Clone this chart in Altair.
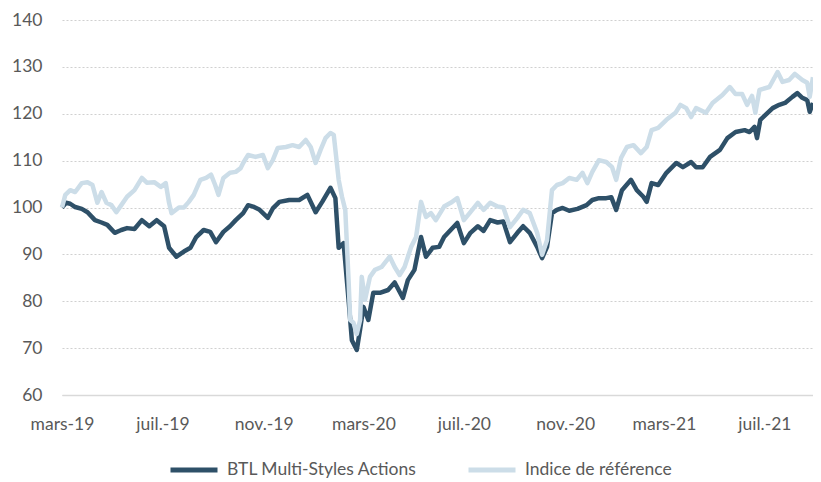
import json
import altair as alt
import pandas as pd

# ---------------- data ----------------
START = "2019-03-01"
END = "2021-08-29"

series_names = ["BTL Multi-Styles Actions", "Indice de référence"]
series_colors = ["#2E5068", "#CCDDE8"]

# days since START, and index values (base 100)
fund_days = [0, 5, 10, 16, 24, 31, 40, 48, 55, 64, 72, 79, 88, 97, 106, 115, 124,
             130, 139, 148, 156, 163, 172, 180, 187, 196, 204, 211, 220, 226, 232,
             240, 250, 256, 264, 276, 288, 298, 308, 316, 326, 332, 336, 342, 348,
             352, 358, 362, 366, 372, 378, 386, 396, 404, 414, 420, 428, 436, 442,
             450, 458, 464, 472, 480, 488, 496, 505, 512, 520, 529, 536, 544, 553,
             560, 568, 577, 583, 589, 595, 601, 608, 616, 626, 637, 644, 652, 661,
             667, 673, 680, 691, 698, 706, 710, 716, 724, 734, 746, 754, 764, 770,
             778, 787, 799, 808, 818, 829, 835, 841, 844, 848, 854, 863, 871, 878,
             887, 893, 899, 905, 908, 912]
fund_vals = [100, 101, 100.8, 100.1, 99.7, 99, 97.3, 96.8, 96.3, 94.6, 95.2, 95.6,
             95.4, 97.3, 96, 97.3, 96, 91.4, 89.5, 90.6, 91.4, 93.7, 95.2, 94.8,
             92.6, 94.8, 96, 97.3, 98.8, 100.5, 100.2, 99.5, 97.8, 99.8, 101.2,
             101.6, 101.6, 102.7, 99, 101.2, 104.2, 102, 91.4, 92.4, 80.3, 71.7,
             69.6, 74, 78.8, 76, 81.8, 81.8, 82.4, 84, 80.7, 84.5, 86.7, 93.7, 89.5,
             91.4, 91.6, 93.7, 95.2, 96.7, 92.4, 94.6, 96, 95, 97.3, 96.8, 97, 92.6,
             94.6, 96, 94.6, 91.6, 89.2, 91.6, 98.8, 99.5, 99.9, 99.3, 99.7, 100.5,
             101.6, 102, 102, 102.2, 99.5, 103.7, 105.9, 103.7, 102.3, 101.2, 105.2,
             104.8, 107.4, 109.5, 108.6, 109.7, 108.6, 108.6, 110.8, 112.3, 114.8,
             116.1, 116.5, 116.1, 117.2, 114.8, 118.7, 119.7, 121.2, 121.9, 122.3,
             123.6, 124.4, 123.4, 122.9, 120.4, 122.3]

bench_days = [0, 4, 10, 16, 24, 31, 37, 43, 48, 54, 60, 66, 72, 79, 88, 97, 103,
              112, 120, 126, 130, 133, 142, 148, 154, 160, 168, 175, 181, 186, 190,
              196, 204, 211, 217, 220, 226, 235, 244, 250, 256, 262, 272, 280, 288,
              296, 302, 308, 314, 320, 326, 330, 336, 340, 344, 348, 350, 354, 358,
              362, 364, 368, 374, 380, 388, 398, 404, 410, 416, 424, 430, 436, 442,
              448, 454, 464, 472, 480, 488, 496, 505, 512, 520, 529, 536, 544, 553,
              560, 568, 577, 583, 589, 595, 601, 608, 616, 625, 632, 638, 644, 652,
              661, 668, 673, 679, 686, 694, 703, 710, 716, 724, 734, 745, 751, 758,
              764, 770, 782, 790, 802, 811, 818, 826, 832, 838, 842, 847, 859, 869,
              875, 883, 890, 899, 905, 908, 912]
bench_vals = [100, 102.7, 103.7, 103.3, 105.2, 105.4, 104.8, 101, 103.3, 101, 100.5,
              99, 100.5, 102.3, 103.7, 106.3, 105.3, 105.4, 104.4, 105.2, 101, 98.8,
              100, 100, 101.2, 102.7, 105.9, 106.3, 107, 104.8, 102.7, 106.3, 107.4,
              107.6, 108.4, 109.5, 111.2, 110.8, 111.2, 108.4, 110.1, 112.7, 112.9,
              113.3, 112.9, 114.4, 112.9, 109.5, 112.3, 114.8, 115.9, 115.5, 105.9,
              102.3, 99.5, 84.5, 76, 75.4, 73, 76, 85.2, 80.3, 85.2, 86.7, 87.3, 89.5,
              87.3, 85.6, 87.3, 91.6, 93.7, 101.2, 98, 98.8, 97.3, 100.2, 101, 102,
              97.3, 99, 101, 99.5, 101, 100.2, 100, 95.8, 97.8, 99.5, 98.8, 94.6,
              89.9, 93, 103.7, 104.8, 105.2, 106.3, 105.9, 107.4, 105.2, 107.6,
              110.1, 109.7, 108.6, 105.9, 110.6, 112.9, 113.3, 111.6, 112.9, 116.5,
              117, 118.7, 120.2, 121.9, 121.2, 119.3, 121.2, 120.2, 122.3, 124,
              125.7, 124.2, 124.2, 121.9, 123.8, 120.2, 125.1, 125.7, 128.9, 126.8,
              127.2, 128.5, 127.2, 126.6, 123.6, 127.8]

tick_dates = ["2019-03-01", "2019-07-01", "2019-11-01", "2020-03-01",
              "2020-07-01", "2020-11-01", "2021-03-01", "2021-07-01"]
tick_labels = ["mars-19", "juil.-19", "nov.-19", "mars-20",
               "juil.-20", "nov.-20", "mars-21", "juil.-21"]
y_ticks = [60, 70, 80, 90, 100, 110, 120, 130, 140]
y_domain = [60, 140]

# ---------------- build table ----------------
start = pd.Timestamp(START)


def make(days, vals, name):
    return pd.DataFrame({
        "date": [(start + pd.Timedelta(days=d)).strftime("%Y-%m-%d") for d in days],
        "value": vals,
        "series": name,
    })


df = pd.concat([make(fund_days, fund_vals, series_names[0]),
                make(bench_days, bench_vals, series_names[1])], ignore_index=True)


def ms(s):
    return int(pd.Timestamp(s, tz="UTC").timestamp() * 1000)


tick_ms = [ms(t) for t in tick_dates]
label_expr = f"{json.dumps(tick_labels)}[indexof({json.dumps(tick_ms)}, +datum.value)]"

FONT = "Lato"
TXT = "#595959"
FS = 17.5

x = alt.X("date:T",
          scale=alt.Scale(type="utc", domain=[ms(START), ms(END)], nice=False),
          axis=alt.Axis(values=tick_ms, labelExpr=label_expr, title=None, grid=False,
                        ticks=False, domainColor="#D9D9D9", domainWidth=1.5,
                        labelPadding=20, labelFontSize=FS, labelColor=TXT,
                        labelFont=FONT, labelOverlap=False, labelFlush=False,
                        labelBound=False))
y = alt.Y("value:Q",
          scale=alt.Scale(domain=y_domain, nice=False, zero=False),
          axis=alt.Axis(values=y_ticks, title=None, domain=False, ticks=False,
                        labelPadding=20, labelFontSize=FS, labelColor=TXT,
                        labelFont=FONT, gridColor="#D0D0D0", gridDash=[2, 2],
                        gridWidth=1.2))
color = alt.Color("series:N",
                  scale=alt.Scale(domain=series_names, range=series_colors),
                  legend=alt.Legend(title=None, orient="none", legendX=106, legendY=424,
                                    direction="horizontal", symbolType="stroke",
                                    symbolSize=2209, symbolStrokeWidth=5,
                                    labelFontSize=FS, labelColor=TXT, labelFont=FONT,
                                    labelLimit=400, columnPadding=41, labelOffset=7,
                                    padding=0))

base = alt.Chart(df).encode(x=x, y=y, color=color)
fund = base.transform_filter(alt.datum.series == series_names[0]).mark_line(
    strokeWidth=4.5, strokeJoin="round")
bench = base.transform_filter(alt.datum.series == series_names[1]).mark_line(
    strokeWidth=4.5, strokeJoin="round")

chart = alt.layer(fund, bench).properties(
    width=751, height=375,
    autosize=alt.AutoSizeParams(type="none"),
    padding={"left": 54, "top": 12, "right": 0, "bottom": 87},
).configure_view(stroke=None)

chart.save("out.html", embed_options={"renderer": "svg", "actions": False})
